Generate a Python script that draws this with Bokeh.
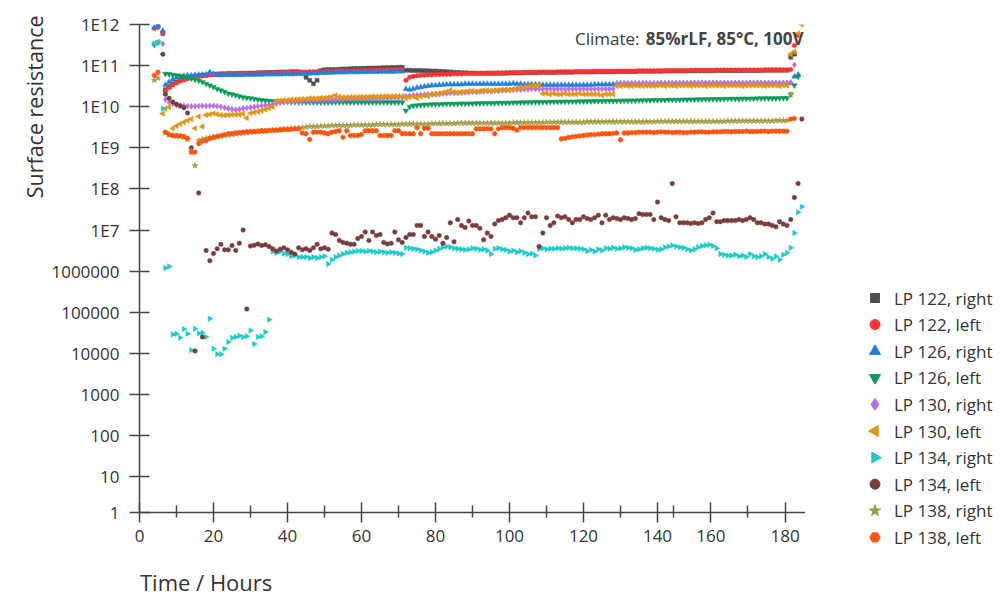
import math
import numpy as np
from bokeh.plotting import figure
from bokeh.layouts import row, column
from bokeh.core.properties import value
from bokeh.models import (Range1d, FixedTicker, CustomJSTickFormatter, Label, Title,
                          ColumnDataSource)
from bokeh.embed import file_html
from bokeh.resources import INLINE

# ---------------------------------------------------------------- data
HOURS = [4.0, 5.0, 6.3] + list(range(7, 180))

X_TICKS = [0, 20, 40, 60, 80, 100, 120, 140, 154.4, 174.5]
X_TICK_LABELS = ["0", "20", "40", "60", "80", "100", "120", "140", "160", "180"]
X_MINOR_TICKS = [10, 30, 50, 70, 90, 110, 130, 144.3, 164.4]

Y_TICKS = [1.35, 1e1, 1e2, 1e3, 1e4, 1e5, 1e6, 1e7, 1e8, 1e9, 1e10, 1e11, 1e12]
Y_TICK_LABELS = ["1", "10", "100", "1000", "10000", "100000", "1000000",
                 "1E7", "1E8", "1E9", "1E10", "1E11", "1E12"]

SERIES_NAMES = ["LP 122, right", "LP 122, left", "LP 126, right", "LP 126, left",
                "LP 130, right", "LP 130, left", "LP 134, right", "LP 134, left",
                "LP 138, right", "LP 138, left"]

LP122_RIGHT = [None, 1.0e12, 6.0e11,
    2.6e10, 3.1e10, 3.6e10, 4.0e10, 4.4e10, 4.7e10, 5.0e10, 5.2e10, 5.4e10, 5.6e10,
    5.8e10, 5.9e10, 6.1e10, 6.2e10, 6.2e10, 6.3e10, 6.3e10, 6.4e10, 6.4e10, 6.4e10,
    6.5e10, 6.5e10, 6.5e10, 6.6e10, 6.6e10, 6.7e10, 6.7e10, 6.8e10, 6.8e10, 6.9e10,
    6.9e10, 7.0e10, 7.0e10, 7.0e10, 7.1e10, 7.1e10, 7.1e10, 6.6e10, 5.2e10, 4.4e10,
    3.6e10, 4.4e10, 7.6e10, 7.9e10, 8.0e10, 8.1e10, 8.1e10, 8.2e10, 8.3e10, 8.3e10,
    8.4e10, 8.5e10, 8.5e10, 8.6e10, 8.6e10, 8.7e10, 8.7e10, 8.8e10, 8.8e10, 8.9e10,
    8.9e10, 9.0e10, 9.0e10, 9.1e10, 9.1e10, 7.7e10, 7.7e10, 7.6e10, 7.6e10, 7.6e10,
    7.5e10, 7.5e10, 7.4e10, 7.4e10, 7.3e10, 7.2e10, 7.1e10, 7.0e10, 6.9e10, 6.8e10,
    6.7e10, 6.7e10, 6.6e10, 6.6e10, 6.5e10, 6.5e10, 6.5e10, 6.5e10, 6.5e10, 6.5e10,
    6.5e10, 6.5e10, 6.5e10, 6.6e10, 6.6e10, 6.6e10, 6.6e10, 6.7e10, 6.7e10, 6.7e10,
    6.7e10, 6.8e10, 6.8e10, 6.8e10, 6.8e10, 6.8e10, 6.9e10, 6.9e10, 6.9e10, 6.9e10,
    6.9e10, 7.0e10, 7.0e10, 7.0e10, 7.0e10, 7.0e10, 7.1e10, 7.1e10, 7.1e10, 7.1e10,
    7.1e10, 7.1e10, 7.2e10, 7.2e10, 7.2e10, 7.2e10, 7.2e10, 7.2e10, 7.3e10, 7.3e10,
    7.3e10, 7.3e10, 7.3e10, 7.3e10, 7.3e10, 7.4e10, 7.4e10, 7.4e10, 7.4e10, 7.4e10,
    7.4e10, 7.4e10, 7.5e10, 7.5e10, 7.5e10, 7.5e10, 7.5e10, 7.5e10, 7.5e10, 7.6e10,
    7.6e10, 7.6e10, 7.6e10, 7.6e10, 7.6e10, 7.6e10, 7.6e10, 7.6e10, 7.6e10, 7.6e10,
    7.6e10, 7.6e10, 7.7e10, 7.7e10, 7.7e10, 7.7e10, 7.7e10, 7.7e10, 7.7e10, 1.6e11,
    1.9e11, None, None]

LP122_LEFT = [8.0e11, 8.5e11, 6.5e11,
    2.4e10, 2.9e10, 3.4e10, 3.8e10, 4.2e10, 4.5e10, 4.8e10, 5.0e10, 5.2e10, 5.4e10,
    5.6e10, 5.7e10, 5.9e10, 6.0e10, 6.0e10, 6.1e10, 6.1e10, 6.2e10, 6.2e10, 6.2e10,
    6.3e10, 6.3e10, 6.3e10, 6.4e10, 6.4e10, 6.5e10, 6.5e10, 6.6e10, 6.6e10, 6.7e10,
    6.7e10, 6.8e10, 6.8e10, 6.8e10, 6.9e10, 6.9e10, 7.0e10, 7.0e10, 7.0e10, 7.1e10,
    7.1e10, 7.2e10, 7.2e10, 7.2e10, 7.3e10, 7.3e10, 7.4e10, 7.4e10, 7.5e10, 7.5e10,
    7.5e10, 7.6e10, 7.6e10, 7.6e10, 7.7e10, 7.7e10, 7.7e10, 7.8e10, 7.8e10, 7.8e10,
    7.9e10, 7.9e10, 7.9e10, 8.0e10, 8.0e10, 4.4e10, 5.2e10, 5.5e10, 5.7e10, 5.8e10,
    5.9e10, 6.0e10, 6.0e10, 6.1e10, 6.1e10, 6.2e10, 6.2e10, 6.2e10, 6.3e10, 6.3e10,
    6.3e10, 6.4e10, 6.4e10, 6.4e10, 6.5e10, 6.5e10, 6.5e10, 6.6e10, 6.6e10, 6.6e10,
    6.7e10, 6.7e10, 6.7e10, 6.8e10, 6.8e10, 6.8e10, 6.8e10, 6.9e10, 6.9e10, 6.9e10,
    6.9e10, 7.0e10, 7.0e10, 7.0e10, 7.0e10, 7.0e10, 7.1e10, 7.1e10, 7.1e10, 7.1e10,
    7.1e10, 7.2e10, 7.2e10, 7.2e10, 7.2e10, 7.2e10, 7.3e10, 7.3e10, 7.3e10, 7.3e10,
    7.3e10, 7.3e10, 7.4e10, 7.4e10, 7.4e10, 7.4e10, 7.4e10, 7.4e10, 7.5e10, 7.5e10,
    7.5e10, 7.5e10, 7.5e10, 7.5e10, 7.5e10, 7.6e10, 7.6e10, 7.6e10, 7.6e10, 7.6e10,
    7.6e10, 7.6e10, 7.7e10, 7.7e10, 7.7e10, 7.7e10, 7.7e10, 7.7e10, 7.7e10, 7.8e10,
    7.8e10, 7.8e10, 7.8e10, 7.8e10, 7.8e10, 7.8e10, 7.8e10, 7.8e10, 7.8e10, 7.8e10,
    7.8e10, 7.8e10, 7.9e10, 7.9e10, 7.9e10, 7.9e10, 7.9e10, 7.9e10, 7.9e10, 8.0e10,
    3.1e11, 5.5e11, None]

LP126_RIGHT = [8.5e11, 9.5e11, 7.1e11,
    3.4e10, 4.0e10, 4.6e10, 5.1e10, 5.4e10, 5.6e10, 5.8e10, 5.8e10, 5.9e10, 6.0e10,
    6.0e10, 6.1e10, 6.9e10, 6.3e10, 6.0e10, 5.9e10, 5.9e10, 5.9e10, 5.9e10, 5.9e10,
    5.9e10, 5.9e10, 6.0e10, 6.0e10, 6.0e10, 6.0e10, 6.0e10, 6.1e10, 6.1e10, 6.1e10,
    6.1e10, 6.1e10, 6.2e10, 6.2e10, 6.2e10, 6.2e10, 6.3e10, 6.3e10, 6.4e10, 6.4e10,
    6.5e10, 6.5e10, 6.6e10, 6.6e10, 6.7e10, 6.7e10, 6.8e10, 6.8e10, 6.8e10, 6.9e10,
    6.9e10, 6.9e10, 6.9e10, 7.0e10, 7.0e10, 7.0e10, 7.0e10, 7.0e10, 7.1e10, 7.1e10,
    7.1e10, 7.1e10, 7.1e10, 7.2e10, 7.2e10, 2.7e10, 2.6e10, 2.7e10, 2.9e10, 3.0e10,
    3.1e10, 3.2e10, 3.3e10, 3.3e10, 3.4e10, 3.4e10, 3.5e10, 3.5e10, 3.5e10, 3.5e10,
    3.5e10, 3.6e10, 3.6e10, 3.6e10, 3.6e10, 3.6e10, 3.6e10, 3.6e10, 3.6e10, 3.6e10,
    3.6e10, 3.6e10, 3.6e10, 3.6e10, 3.7e10, 3.6e10, 3.6e10, 3.5e10, 3.5e10, 3.5e10,
    3.5e10, 3.5e10, 3.4e10, 3.4e10, 3.4e10, 3.4e10, 3.4e10, 3.4e10, 3.4e10, 3.4e10,
    3.4e10, 3.4e10, 3.4e10, 3.4e10, 3.4e10, 3.4e10, 3.5e10, 3.5e10, 3.5e10, 3.5e10,
    3.5e10, 3.5e10, 3.6e10, 3.6e10, 3.6e10, 3.6e10, 3.6e10, 3.6e10, 3.6e10, 3.6e10,
    3.6e10, 3.6e10, 3.6e10, 3.6e10, 3.7e10, 3.7e10, 3.7e10, 3.7e10, 3.7e10, 3.7e10,
    3.7e10, 3.7e10, 3.7e10, 3.7e10, 3.7e10, 3.7e10, 3.7e10, 3.7e10, 3.7e10, 3.7e10,
    3.7e10, 3.7e10, 3.7e10, 3.7e10, 3.7e10, 3.7e10, 3.7e10, 3.7e10, 3.7e10, 3.7e10,
    3.7e10, 3.7e10, 3.7e10, 3.7e10, 3.7e10, 3.7e10, 3.7e10, 3.7e10, 3.7e10, 3.8e10,
    5.4e10, 6.0e10, None]

LP126_LEFT = [3.2e11, 3.7e11, None,
    6.3e10, 6.2e10, 6.0e10, 5.8e10, 5.6e10, 5.4e10, 5.2e10, 4.9e10, 4.6e10, 4.3e10,
    4.0e10, 3.6e10, 3.3e10, 3.0e10, 2.7e10, 2.5e10, 2.3e10, 2.1e10, 2.0e10, 1.9e10,
    1.8e10, 1.7e10, 1.65e10, 1.6e10, 1.55e10, 1.5e10, 1.45e10, 1.42e10, 1.4e10, 1.37e10,
    1.35e10, 1.33e10, 1.32e10, 1.31e10, 1.3e10, 1.3e10, 1.29e10, 1.29e10, 1.28e10, 1.28e10,
    1.28e10, 1.28e10, 1.28e10, 1.28e10, 1.28e10, 1.28e10, 1.28e10, 1.28e10, 1.28e10, 1.28e10,
    1.28e10, 1.28e10, 1.28e10, 1.28e10, 1.28e10, 1.28e10, 1.28e10, 1.28e10, 1.28e10, 1.28e10,
    1.28e10, 1.28e10, 1.28e10, 1.28e10, 1.28e10, 8.0e9, 1.0e10, 1.05e10, 1.08e10, 1.1e10,
    1.12e10, 1.13e10, 1.14e10, 1.15e10, 1.15e10, 1.16e10, 1.17e10, 1.17e10, 1.18e10, 1.18e10,
    1.19e10, 1.19e10, 1.2e10, 1.2e10, 1.21e10, 1.21e10, 1.22e10, 1.22e10, 1.23e10, 1.23e10,
    1.24e10, 1.24e10, 1.25e10, 1.25e10, 1.26e10, 1.26e10, 1.27e10, 1.27e10, 1.28e10, 1.28e10,
    1.29e10, 1.29e10, 1.3e10, 1.3e10, 1.31e10, 1.31e10, 1.32e10, 1.32e10, 1.33e10, 1.33e10,
    1.34e10, 1.34e10, 1.35e10, 1.35e10, 1.36e10, 1.36e10, 1.37e10, 1.37e10, 1.38e10, 1.38e10,
    1.39e10, 1.39e10, 1.4e10, 1.4e10, 1.41e10, 1.41e10, 1.42e10, 1.42e10, 1.43e10, 1.43e10,
    1.44e10, 1.44e10, 1.45e10, 1.45e10, 1.46e10, 1.46e10, 1.47e10, 1.47e10, 1.48e10, 1.48e10,
    1.49e10, 1.49e10, 1.5e10, 1.5e10, 1.51e10, 1.51e10, 1.52e10, 1.52e10, 1.53e10, 1.53e10,
    1.54e10, 1.54e10, 1.55e10, 1.55e10, 1.56e10, 1.56e10, 1.57e10, 1.57e10, 1.58e10, 1.58e10,
    1.59e10, 1.59e10, 1.6e10, 1.6e10, 1.6e10, 1.61e10, 1.61e10, 1.62e10, 1.62e10, 2.0e10,
    3.3e10, 5.4e10, None]

LP130_RIGHT = [None, None, 3.4e11,
    1.5e10, 1.3e10, 1.2e10, 1.1e10, 1.06e10, 1.05e10, 1.04e10, 1.03e10, 1.03e10, 1.04e10,
    1.05e10, 1.04e10, 1.05e10, 1.05e10, 1.03e10, 1.0e10, 9.5e9, 9.0e9, 8.7e9, 8.5e9,
    8.7e9, 9.0e9, 9.3e9, 9.6e9, 9.9e9, 1.02e10, 1.05e10, 1.08e10, 1.1e10, 1.15e10,
    1.2e10, 1.25e10, 1.3e10, 1.32e10, 1.34e10, 1.36e10, 1.38e10, 1.4e10, 1.41e10, 1.42e10,
    1.43e10, 1.44e10, 1.45e10, 1.46e10, 1.47e10, 1.48e10, 1.49e10, 1.5e10, 1.51e10, 1.52e10,
    1.53e10, 1.54e10, 1.55e10, 1.56e10, 1.57e10, 1.58e10, 1.59e10, 1.6e10, 1.61e10, 1.62e10,
    1.63e10, 1.64e10, 1.65e10, 1.66e10, 1.67e10, 1.8e10, 1.85e10, 1.9e10, 1.9e10, 1.95e10,
    1.95e10, 2.0e10, 2.0e10, 2.05e10, 2.05e10, 2.1e10, 2.1e10, 2.15e10, 2.15e10, 2.2e10,
    2.2e10, 2.25e10, 2.25e10, 2.3e10, 2.3e10, 2.35e10, 2.35e10, 2.4e10, 2.4e10, 2.45e10,
    2.45e10, 2.5e10, 2.5e10, 2.55e10, 2.55e10, 2.6e10, 2.6e10, 2.65e10, 2.65e10, 2.7e10,
    2.7e10, 2.7e10, 2.7e10, 2.7e10, 2.7e10, 2.7e10, 2.7e10, 2.7e10, 2.7e10, 2.7e10,
    2.7e10, 2.7e10, 2.7e10, 2.7e10, 2.7e10, 2.7e10, 2.7e10, 2.7e10, 2.7e10, 2.7e10,
    2.7e10, 2.7e10, 3.7e10, 3.7e10, 3.7e10, 3.7e10, 3.7e10, 3.7e10, 3.7e10, 3.7e10,
    3.7e10, 3.7e10, 3.7e10, 3.7e10, 3.7e10, 3.7e10, 3.7e10, 3.7e10, 3.7e10, 3.7e10,
    3.7e10, 3.7e10, 3.7e10, 3.8e10, 3.8e10, 3.8e10, 3.8e10, 3.8e10, 3.8e10, 3.8e10,
    3.8e10, 3.8e10, 3.8e10, 3.8e10, 3.8e10, 3.8e10, 3.8e10, 3.8e10, 3.8e10, 3.8e10,
    3.8e10, 3.8e10, 3.8e10, 3.8e10, 3.8e10, 3.8e10, 3.8e10, 3.8e10, 3.8e10, 3.9e10,
    1.05e11, None, None]

LP130_LEFT = [None, 3.8e11, 6.8e9,
    9.0e9, 9.8e9, 3.0e9, 3.4e9, 3.8e9, 4.2e9, 4.6e9, 5.0e9, 3.0e9, 5.8e9,
    3.3e9, 6.3e9, 6.5e9, 6.8e9, 6.6e9, 6.3e9, 6.2e9, 6.3e9, 6.4e9, 6.4e9,
    6.5e9, 6.7e9, 5.3e9, 6.9e9, 7.2e9, 7.6e9, 8.0e9, 8.6e9, 9.2e9, 1.0e10,
    1.4e10, 1.42e10, 1.45e10, 1.45e10, 1.5e10, 1.5e10, 1.52e10, 1.55e10, 1.55e10, 1.6e10,
    1.6e10, 1.6e10, 1.65e10, 1.65e10, 1.7e10, 1.75e10, 1.9e10, 1.75e10, 1.7e10, 1.7e10,
    1.7e10, 1.72e10, 1.72e10, 1.75e10, 1.75e10, 1.75e10, 1.78e10, 1.78e10, 1.8e10, 1.8e10,
    1.8e10, 1.8e10, 1.8e10, 1.8e10, 1.8e10, 1.6e10, 1.7e10, 1.8e10, 1.6e10, 1.8e10,
    1.9e10, 1.8e10, 2.0e10, 2.0e10, 2.1e10, 2.2e10, 2.3e10, 2.5e10, 2.3e10, 2.2e10,
    2.3e10, 2.3e10, 2.4e10, 2.4e10, 2.3e10, 2.4e10, 2.5e10, 2.5e10, 2.4e10, 2.5e10,
    2.5e10, 2.6e10, 2.6e10, 2.5e10, 2.7e10, 2.8e10, 2.9e10, 3.0e10, 3.1e10, 3.2e10,
    3.3e10, 3.4e10, 2.1e10, 2.1e10, 2.0e10, 2.1e10, 2.0e10, 2.0e10, 2.1e10, 2.0e10,
    2.0e10, 2.0e10, 2.1e10, 2.0e10, 2.0e10, 2.0e10, 2.0e10, 2.0e10, 1.9e10, 2.0e10,
    2.0e10, 2.0e10, 3.2e10, 3.2e10, 3.3e10, 3.2e10, 3.2e10, 3.3e10, 3.2e10, 3.2e10,
    3.3e10, 3.2e10, 3.2e10, 3.3e10, 3.3e10, 3.2e10, 3.3e10, 3.3e10, 3.2e10, 3.3e10,
    3.3e10, 3.3e10, 3.2e10, 3.3e10, 3.3e10, 3.3e10, 3.2e10, 3.3e10, 3.3e10, 3.3e10,
    3.3e10, 3.2e10, 3.3e10, 3.3e10, 3.3e10, 3.3e10, 3.2e10, 3.3e10, 3.3e10, 3.3e10,
    3.3e10, 3.3e10, 3.2e10, 3.3e10, 3.3e10, 3.3e10, 3.2e10, 3.3e10, 3.3e10, 1.9e11,
    2.2e11, 6.0e11, 1.0e12]

LP134_RIGHT = [3.4e11, 3.6e11, 9.0e9,
    1.2e6, 1.3e6, 2.9e4, 3.0e4, 2.4e4, 3.9e4, 3.0e4, 1.2e4, 4.0e4, 3.1e4,
    3.2e4, 2.5e4, 7.0e4, 1.3e4, 9.6e3, 9.6e3, 1.3e4, 1.9e4, 2.4e4, 2.5e4,
    2.7e4, 2.5e4, 2.6e4, 3.6e4, 1.7e4, 2.5e4, 2.6e4, 3.3e4, 6.6e4, 3.0e6,
    2.8e6, 3.0e6, 2.7e6, 2.6e6, 2.3e6, 2.4e6, 2.2e6, 2.2e6, 2.2e6, 2.1e6,
    2.2e6, 2.1e6, 2.2e6, 2.3e6, 1.5e6, 1.9e6, 2.2e6, 2.4e6, 2.6e6, 2.8e6,
    2.9e6, 3.0e6, 3.1e6, 3.1e6, 3.0e6, 3.1e6, 3.0e6, 2.9e6, 3.0e6, 2.9e6,
    2.8e6, 2.9e6, 2.8e6, 2.7e6, 2.6e6, 3.7e6, 3.6e6, 3.5e6, 3.4e6, 3.2e6,
    3.0e6, 2.8e6, 2.9e6, 3.2e6, 3.5e6, 3.8e6, 4.0e6, 3.8e6, 3.6e6, 3.5e6,
    3.4e6, 3.3e6, 3.4e6, 3.6e6, 3.5e6, 3.3e6, 3.4e6, 3.2e6, 2.6e6, 3.5e6,
    3.6e6, 3.4e6, 3.3e6, 3.0e6, 3.2e6, 2.9e6, 3.1e6, 2.8e6, 2.6e6, 2.7e6,
    2.4e6, 3.5e6, 3.6e6, 3.4e6, 3.5e6, 3.5e6, 3.6e6, 3.5e6, 3.6e6, 3.7e6,
    3.6e6, 3.6e6, 3.5e6, 3.4e6, 3.1e6, 3.3e6, 3.0e6, 3.4e6, 3.2e6, 3.6e6,
    3.5e6, 3.7e6, 3.5e6, 3.6e6, 3.8e6, 3.7e6, 3.6e6, 3.3e6, 3.4e6, 3.6e6,
    3.7e6, 3.6e6, 3.5e6, 3.3e6, 3.4e6, 3.8e6, 4.0e6, 4.2e6, 4.0e6, 3.8e6,
    3.7e6, 3.4e6, 3.2e6, 3.4e6, 3.8e6, 4.1e6, 4.3e6, 4.4e6, 4.1e6, 3.6e6,
    2.6e6, 2.5e6, 2.4e6, 2.4e6, 2.5e6, 2.3e6, 2.4e6, 2.2e6, 2.6e6, 2.3e6,
    2.2e6, 2.3e6, 2.6e6, 2.2e6, 2.0e6, 2.3e6, 1.9e6, 2.5e6, 2.8e6, 3.7e6,
    8.5e6, 2.7e7, 3.7e7]

LP134_LEFT = [None, None, 1.9e11,
    2.0e10, 1.6e10, 1.3e10, 1.15e10, 1.05e10, 9.5e9, 7.0e9, 1.0e9, 1.15e4, 8.0e7,
    2.5e4, 3.2e6, 1.8e6, 2.7e6, 3.5e6, 4.5e6, 3.3e6, 3.3e6, 4.2e6, 3.2e6,
    4.8e6, 1.0e7, 1.2e5, 4.1e6, 4.3e6, 4.6e6, 4.2e6, 4.4e6, 4.0e6, 3.5e6,
    3.1e6, 3.4e6, 3.7e6, 3.3e6, 2.9e6, 2.6e6, 3.7e6, 3.3e6, 3.5e6, 3.2e6,
    3.7e6, 4.5e6, 3.5e6, 3.7e6, 3.4e6, 8.5e6, 7.8e6, 5.6e6, 5.0e6, 4.8e6,
    4.5e6, 4.5e6, 6.2e6, 7.0e6, 9.0e6, 5.6e6, 9.0e6, 7.4e6, 7.8e6, 5.0e6,
    4.6e6, 4.8e6, 9.0e6, 5.8e6, 5.0e6, 6.6e6, 7.8e6, 7.8e6, 1.3e7, 1.3e7,
    7.0e6, 9.0e6, 7.0e6, 6.0e6, 7.4e6, 4.8e6, 6.6e6, 1.5e7, 5.2e6, 1.8e7,
    1.3e7, 1.15e7, 1.65e7, 1.3e7, 1.3e7, 1.1e7, 5.8e6, 8.5e6, 7.0e6, 1.4e7,
    1.7e7, 1.8e7, 2.0e7, 2.3e7, 2.0e7, 2.0e7, 1.5e7, 2.0e7, 2.6e7, 2.1e7,
    2.1e7, 4.0e6, 8.5e6, 2.0e7, 1.3e7, 1.5e7, 2.2e7, 2.0e7, 2.1e7, 1.8e7,
    1.5e7, 1.8e7, 1.8e7, 2.1e7, 1.9e7, 1.8e7, 2.0e7, 2.3e7, 1.5e7, 2.3e7,
    1.8e7, 2.0e7, 1.9e7, 1.8e7, 2.0e7, 1.9e7, 1.8e7, 1.9e7, 2.5e7, 2.4e7,
    2.4e7, 2.4e7, 1.8e7, 4.8e7, 2.0e7, 1.8e7, 1.7e7, 1.35e8, 2.1e7, 1.5e7,
    1.5e7, 1.5e7, 1.45e7, 1.5e7, 1.45e7, 1.5e7, 1.8e7, 2.0e7, 2.6e7, 1.6e7,
    1.6e7, 1.7e7, 1.7e7, 1.7e7, 1.7e7, 1.8e7, 1.7e7, 1.8e7, 2.0e7, 1.8e7,
    1.5e7, 1.5e7, 1.4e7, 1.4e7, 1.3e7, 1.2e7, 1.6e7, 1.4e7, 1.3e7, 1.8e7,
    6.2e7, 1.35e8, 5.0e9]

LP138_RIGHT = [4.4e10, 5.0e10, None,
    2.3e9, 2.1e9, 2.0e9, 1.9e9, 1.9e9, 1.8e9, 1.6e9, 8.0e8, 3.7e8, 1.5e9,
    1.6e9, 1.7e9, 1.75e9, 1.8e9, 1.85e9, 1.9e9, 2.0e9, 2.05e9, 2.1e9, 2.2e9,
    2.25e9, 2.3e9, 2.35e9, 2.4e9, 2.45e9, 2.5e9, 2.5e9, 2.55e9, 2.6e9, 2.65e9,
    2.7e9, 2.75e9, 2.8e9, 2.85e9, 2.9e9, 2.95e9, 3.0e9, 3.1e9, 3.2e9, 3.3e9,
    3.3e9, 3.3e9, 3.4e9, 3.4e9, 3.4e9, 3.5e9, 3.5e9, 3.5e9, 3.5e9, 3.5e9,
    3.5e9, 3.6e9, 3.6e9, 3.6e9, 3.6e9, 3.6e9, 3.6e9, 3.7e9, 3.7e9, 3.7e9,
    3.7e9, 3.7e9, 3.7e9, 3.7e9, 3.8e9, 3.8e9, 3.8e9, 3.8e9, 3.8e9, 3.8e9,
    3.8e9, 3.8e9, 3.9e9, 3.9e9, 3.9e9, 3.9e9, 3.9e9, 3.9e9, 3.9e9, 4.0e9,
    4.0e9, 4.0e9, 4.0e9, 4.0e9, 4.0e9, 4.0e9, 4.0e9, 4.0e9, 4.0e9, 4.0e9,
    4.0e9, 4.0e9, 4.0e9, 4.0e9, 4.1e9, 4.1e9, 4.1e9, 4.1e9, 4.1e9, 4.1e9,
    4.1e9, 4.1e9, 4.1e9, 4.2e9, 4.2e9, 4.2e9, 4.2e9, 4.2e9, 4.2e9, 4.2e9,
    4.2e9, 4.2e9, 4.2e9, 4.2e9, 4.3e9, 4.3e9, 4.3e9, 4.3e9, 4.3e9, 4.3e9,
    4.3e9, 4.3e9, 4.3e9, 4.3e9, 4.3e9, 4.3e9, 4.3e9, 4.3e9, 4.3e9, 4.3e9,
    4.3e9, 4.3e9, 4.3e9, 4.4e9, 4.4e9, 4.4e9, 4.4e9, 4.4e9, 4.4e9, 4.4e9,
    4.4e9, 4.4e9, 4.4e9, 4.4e9, 4.4e9, 4.4e9, 4.4e9, 4.4e9, 4.4e9, 4.4e9,
    4.4e9, 4.4e9, 4.5e9, 4.5e9, 4.5e9, 4.5e9, 4.5e9, 4.5e9, 4.5e9, 4.5e9,
    4.5e9, 4.5e9, 4.5e9, 4.5e9, 4.5e9, 4.6e9, 4.6e9, 4.6e9, 4.6e9, 2.0e10,
    None, None, None]

LP138_LEFT = [5.8e10, 6.9e10, None,
    2.4e9, 2.1e9, 2.0e9, 2.0e9, 1.95e9, 1.9e9, 1.7e9, 7.9e8, 7.9e8, 1.26e9,
    1.45e9, 1.5e9, 1.7e9, 1.8e9, 1.9e9, 2.0e9, 2.1e9, 2.2e9, 2.25e9, 2.3e9,
    2.35e9, 2.4e9, 2.45e9, 2.5e9, 2.5e9, 2.55e9, 2.6e9, 2.6e9, 2.65e9, 2.7e9,
    2.7e9, 2.75e9, 2.8e9, 2.8e9, 2.85e9, 2.9e9, 2.9e9, 2.3e9, 2.2e9, 1.6e9,
    2.4e9, 2.4e9, 2.4e9, 2.3e9, 2.2e9, 2.4e9, 2.5e9, 2.6e9, 1.8e9, 2.6e9,
    2.0e9, 2.0e9, 2.0e9, 2.1e9, 2.6e9, 2.6e9, 2.6e9, 2.6e9, 2.0e9, 2.0e9,
    2.0e9, 2.0e9, 2.6e9, 2.6e9, 2.2e9, 2.2e9, 2.2e9, 2.2e9, 3.1e9, 2.2e9,
    3.0e9, 3.0e9, 2.2e9, 2.2e9, 2.2e9, 2.2e9, 2.2e9, 2.2e9, 2.2e9, 2.2e9,
    2.2e9, 2.2e9, 2.2e9, 2.2e9, 2.9e9, 2.9e9, 2.9e9, 2.9e9, 2.9e9, 2.2e9,
    2.9e9, 3.1e9, 3.1e9, 3.1e9, 3.0e9, 2.7e9, 3.1e9, 3.1e9, 3.1e9, 3.1e9,
    3.1e9, 3.1e9, 3.1e9, 3.1e9, 3.1e9, 3.1e9, 3.1e9, 1.65e9, 1.7e9, 1.8e9,
    1.85e9, 1.9e9, 1.95e9, 2.0e9, 2.05e9, 2.1e9, 2.1e9, 2.15e9, 2.2e9, 2.2e9,
    2.2e9, 2.25e9, 2.3e9, 1.57e9, 2.3e9, 2.3e9, 2.35e9, 2.35e9, 2.4e9, 2.4e9,
    2.4e9, 2.4e9, 2.35e9, 2.4e9, 2.45e9, 2.4e9, 2.4e9, 2.35e9, 2.4e9, 2.4e9,
    2.35e9, 2.35e9, 2.4e9, 2.4e9, 2.45e9, 2.45e9, 2.4e9, 2.4e9, 2.45e9, 2.45e9,
    2.45e9, 2.5e9, 2.5e9, 2.45e9, 2.5e9, 2.5e9, 2.5e9, 2.55e9, 2.5e9, 2.5e9,
    2.5e9, 2.55e9, 2.55e9, 2.5e9, 2.55e9, 2.55e9, 2.55e9, 2.55e9, 2.55e9, 5.0e9,
    5.2e9, None, None]

SERIES_VALUES = [LP122_RIGHT, LP122_LEFT, LP126_RIGHT, LP126_LEFT, LP130_RIGHT,
                 LP130_LEFT, LP134_RIGHT, LP134_LEFT, LP138_RIGHT, LP138_LEFT]

X_TITLE = "Time / Hours"
Y_TITLE = "Surface resistance"
CLIMATE_LEAD = "Climate:"
CLIMATE_TEXT = "85%rLF, 85°C, 100V"

# ---------------------------------------------------------------- styles
MARKERS = ["square", "circle", "triangle", "inverted_triangle", "diamond",
           "triangle", "triangle", "circle", "star", "hex"]
ANGLES = [0, 0, 0, 0, 0, math.pi / 2, -math.pi / 2, 0, 0, 0]
COLORS = ["#505050", "#ff3333", "#1e80e0", "#0a9a5a", "#bb6ee0",
          "#e39412", "#1dcaca", "#7a3d3d", "#a29b45", "#ff5511"]
SIZES = [4, 4.5, 5.5, 5.5, 6, 5.5, 5.5, 4.5, 6.5, 5]
LEGEND_SIZES = [9, 10, 11, 11, 12, 11, 11, 10, 12, 10.5]

FONT = "Open Sans"
TEXT = "#333333"
AXIS = "#444444"

MAIN_W, LEG_W, H = 805, 195, 597
MAIN_H = 556          # plot canvas; the x title strip sits below it
STRIP_H = H - MAIN_H


def bare_figure(w, h):
    f = figure(width=w, height=h, output_backend="svg", toolbar_location=None,
               x_range=Range1d(0, w), y_range=Range1d(0, h),
               x_axis_location=None, y_axis_location=None,
               min_border_left=0, min_border_right=0, min_border_top=0,
               min_border_bottom=0)
    f.frame_align = False
    f.title.visible = False
    f.outline_line_color = None
    f.xgrid.grid_line_color = None
    f.ygrid.grid_line_color = None
    return f


p = figure(width=MAIN_W, height=MAIN_H, output_backend="svg", toolbar_location=None,
           x_range=Range1d(0, 180), y_range=Range1d(Y_TICKS[0], 1e12),
           y_axis_type="log",
           min_border_left=139, min_border_right=0, min_border_top=24,
           min_border_bottom=MAIN_H - 512)
p.frame_align = False
p.title.visible = False
p.outline_line_color = None
p.xgrid.grid_line_color = None
p.ygrid.grid_line_color = None


def label_formatter(vals, labs):
    return CustomJSTickFormatter(args=dict(vals=vals, labs=labs), code="""
        for (let i = 0; i < vals.length; i++) {
            if (Math.abs(vals[i] - tick) <= 1e-6 * Math.max(1, Math.abs(vals[i])))
                return labs[i];
        }
        return "";
    """)


xa = p.xaxis[0]
xa.ticker = FixedTicker(ticks=X_TICKS, minor_ticks=X_MINOR_TICKS)
xa.formatter = label_formatter(X_TICKS, X_TICK_LABELS)
xa.major_tick_in = 10
xa.major_tick_out = 10
xa.minor_tick_in = 7
xa.minor_tick_out = 5
xa.major_label_standoff = 7

ya = p.yaxis[0]
ya.ticker = FixedTicker(ticks=Y_TICKS, minor_ticks=[])
ya.formatter = label_formatter(Y_TICKS, Y_TICK_LABELS)
ya.major_tick_in = 10
ya.major_tick_out = 10
ya.major_label_standoff = 10

for ax in (xa, ya):
    ax.axis_line_color = AXIS
    ax.axis_line_width = 1.5
    ax.major_tick_line_color = AXIS
    ax.major_tick_line_width = 1.5
    ax.minor_tick_line_color = AXIS if ax is xa else None
    ax.minor_tick_line_width = 1.5
    ax.major_label_text_font = FONT
    ax.major_label_text_font_size = "17px"
    ax.major_label_text_color = TEXT

hours = np.array(HOURS, dtype=float)
for name, vals, mk, ang, col, sz in zip(SERIES_NAMES, SERIES_VALUES, MARKERS,
                                        ANGLES, COLORS, SIZES):
    assert len(vals) == len(HOURS), name
    src = ColumnDataSource(dict(h=hours, v=np.array(vals, dtype=float)))
    p.scatter(x="h", y="v", source=src, marker=mk, angle=ang, size=sz,
              fill_color=col, line_color=col, line_width=0.5)

p.add_layout(Title(text=Y_TITLE, align="right", text_font=FONT,
                   text_font_size="21.5px", text_font_style="normal",
                   text_color=TEXT, standoff=0, offset=-9), "left")

p.add_layout(Label(x=500, y=474, x_units="screen", y_units="screen",
                   text=CLIMATE_LEAD, text_font=FONT, text_font_size="17px",
                   text_color="#3a3a3a", text_baseline="middle", text_align="right"))
p.add_layout(Label(x=664, y=474, x_units="screen", y_units="screen",
                   text=CLIMATE_TEXT, text_font=FONT, text_font_size="17px",
                   text_font_style="bold", text_color="#444444",
                   text_baseline="middle", text_align="right"))

# ---------------------------------------------------------------- x title strip
strip = bare_figure(MAIN_W, STRIP_H)
strip.add_layout(Label(x=139.5, y=STRIP_H - (581 - MAIN_H), x_units="screen",
                       y_units="screen", text=X_TITLE, text_font=FONT,
                       text_font_size="22px", text_color=TEXT,
                       text_baseline="middle", text_align="left"))

# ---------------------------------------------------------------- legend panel
lg = bare_figure(LEG_W, H)
ROW_TOP, ROW_STEP, GLYPH_X, TEXT_X = 297.5, 26.6, 69.5, 88.5
n = len(SERIES_NAMES)
row_y = [H - (ROW_TOP + ROW_STEP * i) for i in range(n)]
for i in range(n):
    lg.scatter(x=[GLYPH_X], y=[row_y[i]], marker=MARKERS[i], angle=ANGLES[i],
               size=LEGEND_SIZES[i], fill_color=COLORS[i], line_color=COLORS[i])
lg.text(x=[TEXT_X] * n, y=row_y, text=SERIES_NAMES, text_font=value(FONT),
        text_font_size=value("17px"), text_color=TEXT, text_baseline="middle",
        text_align="left")

layout = row(column(p, strip), lg)
open("out.html", "w").write(file_html(layout, INLINE))
